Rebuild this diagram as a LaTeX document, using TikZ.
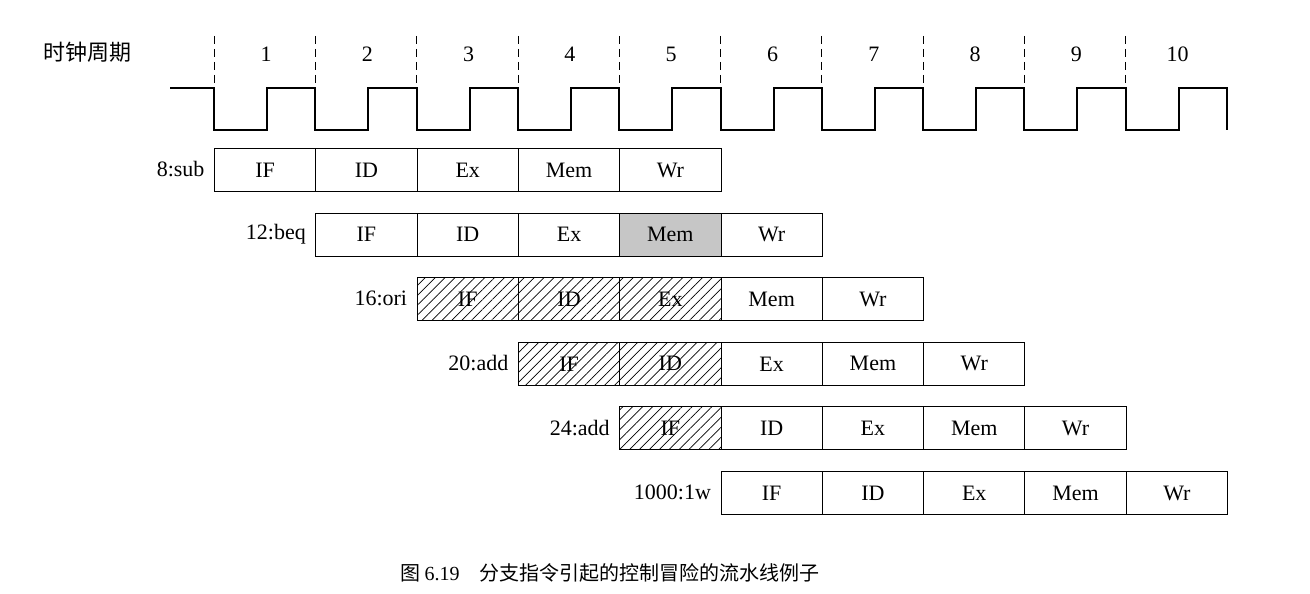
\documentclass[tikz,border=0pt]{standalone}
\usepackage{fontspec}
\setmainfont{Liberation Serif}
\newfontfamily\cjk{Noto Sans CJK SC}
\usetikzlibrary{patterns.meta}
\begin{document}
\begin{tikzpicture}[x=1pt,y=-1pt,
  stage/.style={draw,line width=1pt,minimum width=101.3pt,minimum height=43pt,anchor=north west,inner sep=0pt,font=\fontsize{22}{24}\selectfont},
  hatch/.style={stage,postaction={pattern={Lines[angle=45,distance=7pt,line width=0.7pt]}}},
  shade/.style={stage,fill=gray!45},
  lbl/.style={anchor=east,font=\fontsize{22}{24}\selectfont},
  clk/.style={line width=2pt},
  dashln/.style={line width=0.8pt,dash pattern=on 8pt off 5pt}]
\useasboundingbox (0,0) rectangle (1310,594);
\def\cw{101.3}
\node[anchor=west,font=\cjk\fontsize{22}{24}\selectfont] (title) at (40,52) {时钟周期};
\foreach \i in {0,...,9}{
  \pgfmathsetmacro\xx{214+\i*\cw}
  \coordinate (d\i) at (\xx,36);
  \draw[dashln] (\xx,36) -- (\xx,92);
  \pgfmathtruncatemacro\n{\i+1}
  \node[font=\fontsize{22}{24}\selectfont] (n\i) at (\xx+52,54) {\n};
}
\draw[clk] (170,88) -- (214,88)
  \foreach \i in {0,...,9}{ -- ++(0,42) -- ++(53,0) -- ++(0,-42) -- ++(48.3,0) } -- ++(0,42);
\foreach \r/\name/\kinds in {0/8:sub/{s,s,s,s,s},1/12:beq/{s,s,s,g,s},2/16:ori/{h,h,h,s,s},3/20:add/{h,h,s,s,s},4/24:add/{h,s,s,s,s},5/1000:1w/{s,s,s,s,s}}{
  \pgfmathsetmacro\yy{148+\r*64.6}
  \pgfmathsetmacro\xo{214+\r*\cw}
  \node[lbl] (L\r) at (\xo-6,\yy+21.5) {\name};
  \foreach \k [count=\j from 0] in \kinds {
    \pgfmathsetmacro\xs{\xo+\j*\cw}
    \ifnum\j=0 \def\t{IF}\fi
    \ifnum\j=1 \def\t{ID}\fi
    \ifnum\j=2 \def\t{Ex}\fi
    \ifnum\j=3 \def\t{Mem}\fi
    \ifnum\j=4 \def\t{Wr}\fi
    \if\k h \node[hatch] (b\r\j) at (\xs,\yy) {\t};
    \else\if\k g \node[shade] (b\r\j) at (\xs,\yy) {\t};
    \else \node[stage] (b\r\j) at (\xs,\yy) {\t};\fi\fi
  }
}
\node[font=\cjk\fontsize{20}{22}\selectfont] (cap) at (610,573) {图 {\rmfamily 6.19}\quad 分支指令引起的控制冒险的流水线例子};
\end{tikzpicture}
\end{document}
